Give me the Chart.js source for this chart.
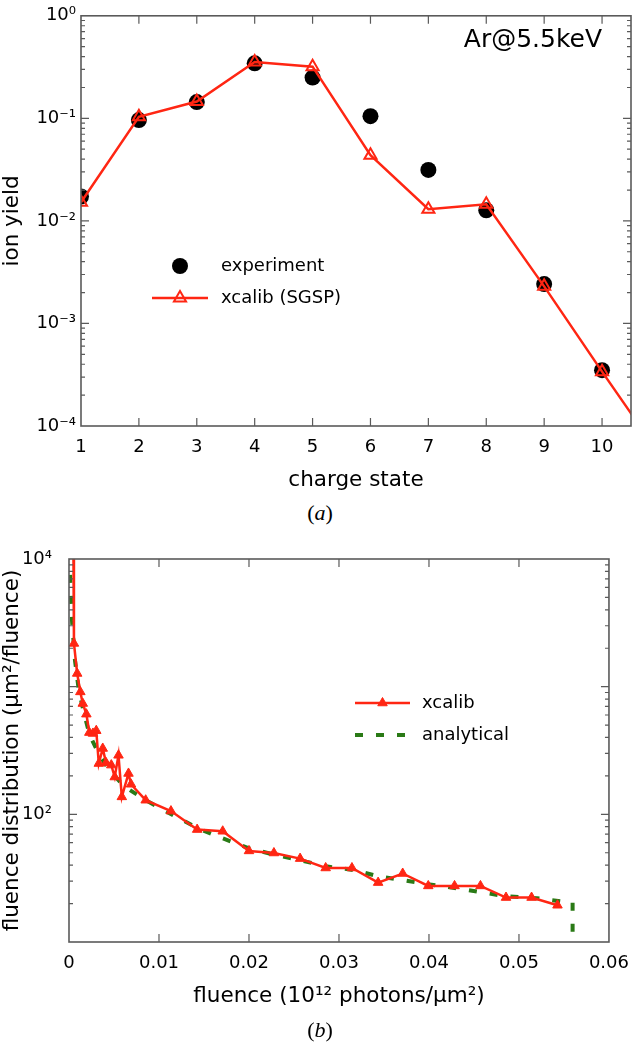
<!DOCTYPE html>
<html>
<head>
<meta charset="utf-8">
<script src="https://cdn.jsdelivr.net/npm/chart.js@4.4.1/dist/chart.umd.min.js"></script>
<style>
  body { margin: 0; background: #fff; }
  #page { position: relative; width: 640px; height: 1064px; }
  .box { position: absolute; left: 0; width: 640px; }
  .cap { position: absolute; left: 0; width: 640px; text-align: center; font: 22px "Liberation Serif", serif; line-height: 24px; color: #000; }
</style>
</head>
<body>
<div id="page">
  <div class="box" style="top:0;height:500px"><canvas id="yieldChart"></canvas></div>
  <div class="cap" style="top:501px">(<i>a</i>)</div>
  <div class="box" style="top:530px;height:490px"><canvas id="fluenceChart"></canvas></div>
  <div class="cap" style="top:1018px">(<i>b</i>)</div>
</div>
<script>
// (a) ion yield vs charge state
const chargeStates = [1, 2, 3, 4, 5, 6, 7, 8, 9, 10];
const experimentYield = [0.0173, 0.0962, 0.144, 0.344, 0.250, 0.105, 0.0314, 0.0127, 0.00242, 0.00035];
const xcalibStates = [1, 2, 3, 4, 5, 6, 7, 8, 9, 10, 11];
const xcalibYield = [0.0152, 0.1035, 0.146, 0.354, 0.319, 0.0437, 0.013, 0.0145, 0.0023, 0.000339, 0.000052];
const yieldTickValues = [1e-4, 1e-3, 1e-2, 1e-1, 1];
const yieldTickLabels = ['10⁻⁴', '10⁻³', '10⁻²', '10⁻¹', '10⁰'];

// (b) fluence distribution
const xcalibFluence = [0.00047, 0.00055, 0.00091, 0.00126, 0.00153, 0.00193, 0.00226, 0.00266, 0.00303, 0.00331,
  0.00375, 0.00412, 0.0047, 0.00508, 0.0055, 0.00587, 0.00661, 0.00689, 0.00852, 0.01133,
  0.01424, 0.01708, 0.02, 0.02277, 0.02568, 0.02852, 0.03144, 0.03435, 0.03708, 0.03992,
  0.04284, 0.04572, 0.04856, 0.0514, 0.05428];
const xcalibDist = [20000, 2181, 1269, 910, 738, 609, 437, 430, 452, 250,
  328, 253, 243, 196, 290, 137, 209, 172, 129, 106,
  76, 73.7, 51.7, 49.8, 45.0, 38.0, 38.0, 29.2, 34.4, 27.5,
  27.5, 27.5, 22.3, 22.3, 19.4];
const analyticalFluence = [0.00012, 0.00033, 0.00066, 0.00109, 0.00164, 0.0023, 0.00339, 0.00448, 0.00612, 0.00852,
  0.01158, 0.01432, 0.01705, 0.02, 0.02306, 0.02568, 0.02852, 0.0318, 0.03432, 0.03727,
  0.03989, 0.04383, 0.04852, 0.05202, 0.0553, 0.05596, 0.05596];
const analyticalDist = [7500, 3320, 1614, 939, 631, 417, 290, 222, 166, 129,
  98.4, 77.8, 65, 54.2, 47.8, 43.7, 39.2, 36.5, 32.7, 30.4,
  28.3, 25.9, 22.8, 22.0, 20.5, 20.5, 5];
const fluenceTickValues = [0, 0.01, 0.02, 0.03, 0.04, 0.05, 0.06];
const fluenceTickLabels = ['0', '0.01', '0.02', '0.03', '0.04', '0.05', '0.06'];
const distTickValues = [100, 10000];
const distTickLabels = ['10²', '10⁴'];

const RED = '#ff2613';
const GREEN = '#2a7a16';
const FRAME = '#5a5a5a';

Chart.defaults.font.family = '"DejaVu Sans", sans-serif';
Chart.defaults.color = '#000';

const toPoints = (xs, ys) => xs.map((x, i) => ({ x, y: ys[i] }));

// box around the plot with inward ticks on all four sides
const frameTicks = {
  id: 'frameTicks',
  afterDatasetsDraw(chart) {
    const { ctx, chartArea: a, scales: { x, y } } = chart;
    ctx.save();
    ctx.strokeStyle = FRAME;
    ctx.lineWidth = 1.2;
    ctx.beginPath();
    x.ticks.forEach(t => {
      const px = x.getPixelForValue(t.value);
      if (px <= a.left + 1 || px >= a.right - 1) return;
      ctx.moveTo(px, a.bottom); ctx.lineTo(px, a.bottom - 8);
      ctx.moveTo(px, a.top); ctx.lineTo(px, a.top + 8);
    });
    const lo = Math.floor(Math.log10(y.min)), hi = Math.ceil(Math.log10(y.max));
    for (let e = lo; e <= hi; e++) {
      for (let m = 1; m < 10; m++) {
        const v = m * Math.pow(10, e);
        if (v < y.min * 0.999 || v > y.max * 1.001) continue;
        const py = y.getPixelForValue(v);
        if (py <= a.top + 1 || py >= a.bottom - 1) continue;
        const len = m === 1 ? 8 : 4;
        ctx.moveTo(a.left, py); ctx.lineTo(a.left + len, py);
        ctx.moveTo(a.right, py); ctx.lineTo(a.right - len, py);
      }
    }
    ctx.stroke();
    ctx.lineWidth = 1.6;
    ctx.strokeRect(a.left, a.top, a.right - a.left, a.bottom - a.top);
    ctx.restore();
  }
};

function drawMarker(ctx, ds, x, y) {
  const r = ds.pointRadius;
  ctx.beginPath();
  if (ds.pointStyle === 'triangle') {
    const w = r * Math.sqrt(3) / 2;
    ctx.moveTo(x, y - r);
    ctx.lineTo(x + w, y + r / 2);
    ctx.lineTo(x - w, y + r / 2);
    ctx.closePath();
  } else {
    ctx.arc(x, y, r, 0, Math.PI * 2);
  }
  ctx.fillStyle = ds.pointBackgroundColor;
  ctx.fill();
  if (ds.pointBorderWidth) {
    ctx.lineWidth = ds.pointBorderWidth;
    ctx.strokeStyle = ds.pointBorderColor;
    ctx.stroke();
  }
}

// legend and notes drawn inside the plot area
const inlineLegend = {
  id: 'inlineLegend',
  afterDraw(chart, args, opts) {
    const ctx = chart.ctx;
    ctx.save();
    (opts.items || []).forEach(it => {
      const ds = chart.data.datasets[it.dataset];
      if (ds.showLine !== false) {
        ctx.beginPath();
        ctx.setLineDash(ds.borderDash || []);
        ctx.lineWidth = ds.borderWidth;
        ctx.strokeStyle = ds.borderColor;
        ctx.moveTo(it.x0, it.y);
        ctx.lineTo(it.x1, it.y);
        ctx.stroke();
        ctx.setLineDash([]);
      }
      if (ds.pointRadius > 0) drawMarker(ctx, ds, (it.x0 + it.x1) / 2, it.y);
      ctx.fillStyle = '#000';
      ctx.font = '18px "DejaVu Sans"';
      ctx.textAlign = 'left';
      ctx.textBaseline = 'middle';
      ctx.fillText(ds.label, it.tx, it.y);
    });
    if (opts.note) {
      ctx.font = opts.note.font;
      ctx.textAlign = 'right';
      ctx.textBaseline = 'middle';
      ctx.fillStyle = '#000';
      ctx.fillText(opts.note.text, opts.note.x, opts.note.y);
    }
    ctx.restore();
  }
};

new Chart(document.getElementById('yieldChart'), {
  type: 'line',
  data: {
    datasets: [
      {
        label: 'xcalib (SGSP)',
        data: toPoints(xcalibStates, xcalibYield),
        borderColor: RED,
        borderWidth: 2.5,
        pointStyle: 'triangle',
        pointRadius: 7,
        pointBorderWidth: 2,
        pointBorderColor: RED,
        pointBackgroundColor: 'rgba(0,0,0,0)',
        order: 0
      },
      {
        label: 'experiment',
        data: toPoints(chargeStates, experimentYield),
        showLine: false,
        pointStyle: 'circle',
        pointRadius: 8,
        pointBorderWidth: 0,
        pointBorderColor: '#000',
        pointBackgroundColor: '#000',
        order: 1
      }
    ]
  },
  options: {
    responsive: true,
    maintainAspectRatio: false,
    animation: false,
    layout: { padding: { top: 9, right: 2, left: 0, bottom: 0 } },
    plugins: {
      legend: { display: false },
      tooltip: { enabled: false },
      inlineLegend: {
        items: [
          { dataset: 1, x0: 152, x1: 208, y: 266, tx: 221 },
          { dataset: 0, x0: 152, x1: 208, y: 298, tx: 221 }
        ],
        note: { text: 'Ar@5.5keV', x: 602, y: 40, font: '25px "DejaVu Sans"' }
      }
    },
    scales: {
      x: {
        type: 'linear',
        min: 1,
        max: 10.5,
        grid: { display: false, drawTicks: false },
        border: { display: false },
        afterBuildTicks: s => { s.ticks = chargeStates.map(v => ({ value: v })); },
        afterFit: s => { s.height = 74; },
        ticks: { padding: 11, font: { size: 18 }, autoSkip: false, maxRotation: 0, callback: v => String(v) },
        title: { display: true, text: 'charge state', font: { size: 21.5 }, padding: { top: 0, bottom: 7 } }
      },
      y: {
        type: 'logarithmic',
        min: 1e-4,
        max: 1,
        grid: { display: false, drawTicks: false },
        border: { display: false },
        afterBuildTicks: s => { s.ticks = yieldTickValues.map(v => ({ value: v })); },
        afterFit: s => { s.width = 81; },
        ticks: { padding: 5, font: { size: 18 }, autoSkip: false, callback: (v, i) => yieldTickLabels[i] },
        title: { display: true, text: 'ion yield', font: { size: 21.5 }, padding: 0 }
      }
    }
  },
  plugins: [frameTicks, inlineLegend]
});

new Chart(document.getElementById('fluenceChart'), {
  type: 'line',
  data: {
    datasets: [
      {
        label: 'xcalib',
        data: toPoints(xcalibFluence, xcalibDist),
        borderColor: RED,
        borderWidth: 2.5,
        pointStyle: 'triangle',
        pointRadius: 5.5,
        pointBorderWidth: 1,
        pointBorderColor: RED,
        pointBackgroundColor: RED,
        clip: { left: 10, top: 0, right: 10, bottom: 10 },
        order: 0
      },
      {
        label: 'analytical',
        data: toPoints(analyticalFluence, analyticalDist),
        borderColor: GREEN,
        borderWidth: 4,
        borderDash: [8, 13],
        pointRadius: 0,
        clip: 0,
        order: 1
      }
    ]
  },
  options: {
    responsive: true,
    maintainAspectRatio: false,
    animation: false,
    layout: { padding: { top: 29, right: 22, left: 0, bottom: 0 } },
    plugins: {
      legend: { display: false },
      tooltip: { enabled: false },
      inlineLegend: {
        items: [
          { dataset: 0, x0: 355, x1: 410, y: 173, tx: 422 },
          { dataset: 1, x0: 355, x1: 410, y: 205, tx: 422 }
        ]
      }
    },
    scales: {
      x: {
        type: 'linear',
        min: 0,
        max: 0.06,
        grid: { display: false, drawTicks: false },
        border: { display: false },
        afterBuildTicks: s => { s.ticks = fluenceTickValues.map(v => ({ value: v })); },
        afterFit: s => { s.height = 78; },
        ticks: { padding: 11, font: { size: 18 }, autoSkip: false, maxRotation: 0, callback: (v, i) => fluenceTickLabels[i] },
        title: { display: true, text: 'fluence (10¹² photons/μm²)', font: { size: 21.5 }, padding: { top: 0, bottom: 11 } }
      },
      y: {
        type: 'logarithmic',
        min: 10,
        max: 10000,
        grid: { display: false, drawTicks: false },
        border: { display: false },
        afterBuildTicks: s => { s.ticks = distTickValues.map(v => ({ value: v })); },
        afterFit: s => { s.width = 69; },
        ticks: { padding: 17, font: { size: 18 }, autoSkip: false, callback: (v, i) => distTickLabels[i] },
        title: { display: true, text: 'fluence distribution (μm²/fluence)', font: { size: 21.5 }, padding: 0 }
      }
    }
  },
  plugins: [frameTicks, inlineLegend]
});
</script>
</body>
</html>
